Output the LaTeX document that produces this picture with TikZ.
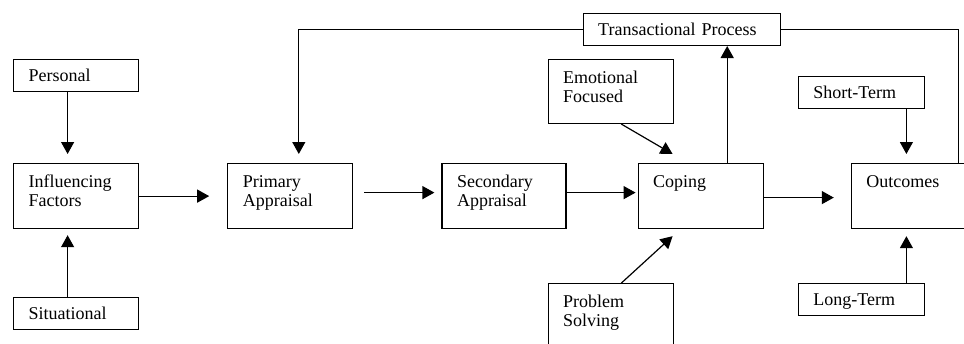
\documentclass[tikz,border=0pt]{standalone}
\usepackage{fontspec}
\setmainfont{Liberation Serif}
\usetikzlibrary{positioning,arrows.meta}

\tikzset{
box/.style={draw, line width=1.2pt, anchor=north west, align=left, text width=95pt,
  inner xsep=15pt, inner ysep=12pt, text height=12pt, text depth=29pt},
tag/.style={box, inner ysep=10pt, text depth=0pt},
arr/.style={line width=1.2pt, -{Triangle[length=12pt,width=13pt]}},
link/.style={line width=1.2pt},
}

\begin{document}
\begin{tikzpicture}[x=1pt, y=-1pt, font=\fontsize{18}{19}\selectfont]
\useasboundingbox (0,0) rectangle (964,343);
\node[box](inf) at (13,163) {Influencing\\Factors};
\node[tag, above=71pt of inf](pers) {Personal};
\node[tag, below=68pt of inf](sit) {Situational};
\node[box, right=88pt of inf](prim) {Primary\\Appraisal};
\node[box, right=88pt of prim, text width=94pt](sec) {Secondary\\Appraisal};
\node[box, right=71pt of sec](cop) {Coping};
\node[box, right=87pt of cop, text width=100pt](out) {Outcomes};
\node[box, above=39pt of cop, xshift=-90pt, text depth=28pt](emo) {Emotional\\Focused};
\node[box, below=54pt of cop, xshift=-90pt, text depth=39pt](prob) {Problem\\Solving};
\node[tag, above=117pt of cop, xshift=-19pt, text width=167pt](trans) {Transactional Process};
\node[tag, above=54pt of out, xshift=-55pt, text width=96pt](short) {Short-Term};
\node[tag, below=54pt of out, xshift=-55pt, text width=96pt](long) {Long-Term};

\draw[arr, shorten >=9pt]([xshift=-8.5pt]pers.south)--([xshift=-8.5pt]inf.north);
\draw[arr, shorten >=6pt]([xshift=-8.5pt]sit.north)--([xshift=-8.5pt]inf.south);
\draw[arr, shorten >=18pt](inf.east)--(prim.west);
\draw[arr, shorten <=11pt, shorten >=7pt]([yshift=3.5pt]prim.east)--([yshift=3.5pt]sec.west);
\draw[arr, shorten >=2pt]([yshift=3.5pt]sec.east)--([yshift=3.5pt]cop.west);
\draw[arr, shorten >=17pt]([yshift=-1.5pt]cop.east)--([yshift=-1.5pt]out.west);
\draw[arr]([xshift=26.5pt]cop.north)--([xshift=26.5pt]cop.north |- trans.south);
\draw[arr]([xshift=10.5pt]emo.south)--([xshift=35pt, yshift=9pt]cop.north west);
\draw[arr]([xshift=10.5pt]prob.north)--([xshift=35pt, yshift=-7pt]cop.south west);
\draw[arr, shorten >=9pt](trans.west)-|([xshift=8.5pt]prim.north);
\draw[link]([xshift=108pt]out.north west)|-(trans.east);
\draw[arr, shorten >=9pt]([xshift=45pt]short.south)--([xshift=45pt]short.south |- out.north);
\draw[arr, shorten >=7pt]([xshift=45pt]long.north)--([xshift=45pt]long.north |- out.south);
\end{tikzpicture}
\end{document}
